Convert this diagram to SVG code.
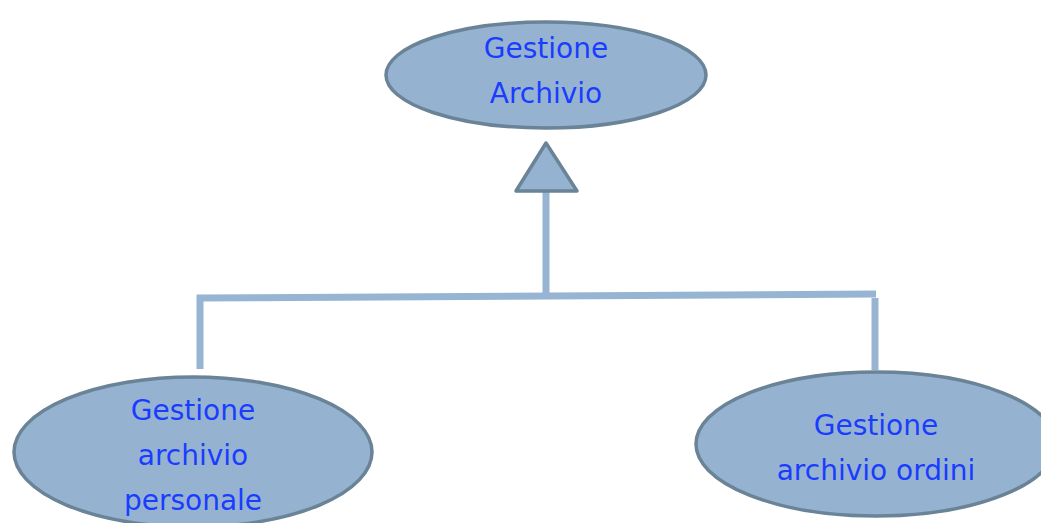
<svg xmlns="http://www.w3.org/2000/svg" width="1041" height="523" viewBox="0 0 1041 523">
<style>
.node{fill:#95b3d0;stroke:#6a8397;stroke-width:3.5}
.lbl{font-family:"DejaVu Sans",sans-serif;font-size:28px;fill:#1a3cff;text-anchor:middle}
.conn{stroke:#97b5d2;stroke-width:7;fill:none}
</style>
<rect width="1041" height="523" fill="#ffffff"/>
<g id="connectors">
<polyline class="conn" points="200,369 200,298 876,294"/>
<line class="conn" x1="875" y1="298" x2="875" y2="370"/>
<line class="conn" x1="546" y1="191" x2="546" y2="295"/>
<polygon points="546,143 516,191 577,191" fill="#95b3d0" stroke="#6a8397" stroke-width="3.5" stroke-linejoin="round"/>
</g>
<g id="gestione-archivio">
<ellipse class="node" cx="546" cy="75" rx="160" ry="53"/>
<text class="lbl" x="546" y="58">Gestione</text>
<text class="lbl" x="546" y="103">Archivio</text>
</g>
<g id="gestione-archivio-personale">
<ellipse class="node" cx="193" cy="452" rx="179" ry="75"/>
<text class="lbl" x="193" y="420">Gestione</text>
<text class="lbl" x="193" y="465">archivio</text>
<text class="lbl" x="193" y="510">personale</text>
</g>
<g id="gestione-archivio-ordini">
<ellipse class="node" cx="876" cy="444" rx="180" ry="72"/>
<text class="lbl" x="876" y="435">Gestione</text>
<text class="lbl" x="876" y="480">archivio ordini</text>
</g>
</svg>
